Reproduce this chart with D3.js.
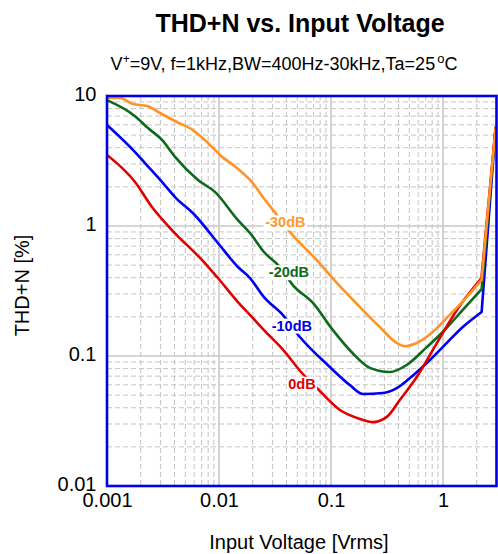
<!DOCTYPE html>
<html><head><meta charset="utf-8">
<script src="https://cdn.jsdelivr.net/npm/d3@7"></script>
<style>
body{margin:0;background:#fff;}
svg{display:block;}
text{font-family:Arial,"Liberation Sans",sans-serif;}
</style>
</head><body>
<svg id="chart" width="498" height="554"></svg>
<script>
// ---- data ----
const xTickValues = [0.001, 0.01, 0.1, 1];
const xTickLabels = ["0.001", "0.01", "0.1", "1"];
const yTickValues = [0.01, 0.1, 1, 10];
const yTickLabels = ["0.01", "0.1", "1", "10"];

const seriesNames = ["-10dB", "-20dB", "0dB", "-30dB"];

const volt0dB = [0.001, 0.00178, 0.00252, 0.0038, 0.00748, 0.00977, 0.01475, 0.01888, 0.0252, 0.0372, 0.055, 0.0748, 0.120, 0.181, 0.236, 0.315, 0.411, 0.582, 0.809, 0.993, 1.33, 2.2, 2.95];
const thd0dB  = [3.52, 2.18, 1.40, 0.93, 0.519, 0.398, 0.260, 0.207, 0.158, 0.112, 0.074, 0.0567, 0.0384, 0.0328, 0.031, 0.034, 0.0459, 0.0689, 0.111, 0.150, 0.226, 0.395, 5.8];

const volt10dB = [0.001, 0.00178, 0.00218, 0.00316, 0.00405, 0.0061, 0.00977, 0.01475, 0.0189, 0.0252, 0.0372, 0.0527, 0.0975, 0.147, 0.192, 0.290, 0.386, 0.494, 0.716, 0.993, 1.50, 2.21, 2.95];
const thd10dB  = [5.98, 3.7, 3.05, 2.14, 1.67, 1.21, 0.74, 0.484, 0.398, 0.284, 0.2065, 0.140, 0.0823, 0.0598, 0.051, 0.0519, 0.0567, 0.0665, 0.0883, 0.117, 0.167, 0.218, 5.8];

const volt20dB = [0.001, 0.00178, 0.00232, 0.0031, 0.00405, 0.00649, 0.00919, 0.01475, 0.0189, 0.0252, 0.0349, 0.0456, 0.0689, 0.104, 0.156, 0.222, 0.334, 0.474, 0.716, 0.993, 1.50, 2.21, 2.95];
const thd20dB  = [9.3, 7.0, 5.67, 4.59, 3.40, 2.26, 1.83, 1.11, 0.883, 0.631, 0.484, 0.351, 0.256, 0.158, 0.105, 0.081, 0.0753, 0.0853, 0.117, 0.153, 0.226, 0.327, 5.8];

const volt30dB = [0.001, 0.00131, 0.0017, 0.00228, 0.00297, 0.00421, 0.00585, 0.0078, 0.0102, 0.01445, 0.02, 0.0246, 0.0303, 0.0429, 0.0746, 0.1127, 0.181, 0.272, 0.386, 0.455, 0.582, 0.809, 1.148, 1.63, 2.21, 2.95];
const thd30dB  = [9.66, 9.66, 8.68, 8.38, 7.40, 6.31, 5.47, 4.43, 3.52, 2.79, 2.14, 1.67, 1.33, 0.90, 0.547, 0.365, 0.238, 0.167, 0.126, 0.119, 0.126, 0.153, 0.207, 0.284, 0.385, 5.8];

// label anchor points (data coordinates) in seriesNames order
const labelVolt = [0.0447, 0.0421, 0.055, 0.0391];
const labelThd  = [0.172, 0.443, 0.0614, 1.07];

// ---- layout ----
const svg = d3.select("#chart");
const L = 107, T = 96, R = 496.5, B = 486;
const x = d3.scaleLog().domain([0.001, 3]).range([L, R]);
const y = d3.scaleLog().domain([0.01, 10]).range([B, T]);

const colors = {"0dB":"#e00000","-10dB":"#0000f0","-20dB":"#0d6a1a","-30dB":"#ff9326"};
const labelColors = {"0dB":"#e00000","-10dB":"#0000e0","-20dB":"#0d6a1a","-30dB":"#ff9933"};
const seriesData = {
  "0dB": d3.zip(volt0dB, thd0dB),
  "-10dB": d3.zip(volt10dB, thd10dB),
  "-20dB": d3.zip(volt20dB, thd20dB),
  "-30dB": d3.zip(volt30dB, thd30dB)
};

// ---- titles ----
svg.append("text").attr("x", 300).attr("y", 31.5).attr("text-anchor","middle")
  .attr("font-size", 25).attr("font-weight","bold").text("THD+N vs. Input Voltage");

const sub = svg.append("text").attr("x", 284).attr("y", 70).attr("text-anchor","middle").attr("font-size", 18);
sub.append("tspan").text("V");
sub.append("tspan").attr("font-size", 12).attr("dy", -7).text("+");
sub.append("tspan").attr("dy", 7).text("=9V, f=1kHz,BW=400Hz-30kHz,Ta=25");
sub.append("tspan").attr("font-size", 13).attr("dy", -7).attr("dx", 2).text("o");
sub.append("tspan").attr("dy", 7).text("C");

// ---- grid ----
const grid = svg.append("g");
const xMinor = [], yMinor = [];
[0.001, 0.01, 0.1, 1].forEach(d => { for (let k = 2; k <= 9; k++) { const v = +(k*d).toPrecision(3); if (v < 2.99) xMinor.push(v); } });
[0.01, 0.1, 1].forEach(d => { for (let k = 2; k <= 9; k++) yMinor.push(+(k*d).toPrecision(3)); });

grid.selectAll(".xm").data(xMinor).join("line")
  .attr("x1", d => x(d)).attr("x2", d => x(d)).attr("y1", T).attr("y2", B)
  .attr("stroke", "#c4c4c4").attr("stroke-width", 1).attr("stroke-dasharray", "5,3");
grid.selectAll(".ym").data(yMinor).join("line")
  .attr("x1", L).attr("x2", R).attr("y1", d => y(d)).attr("y2", d => y(d))
  .attr("stroke", "#c4c4c4").attr("stroke-width", 1).attr("stroke-dasharray", "5,3");
grid.selectAll(".xM").data([0.01, 0.1, 1]).join("line")
  .attr("x1", d => x(d)).attr("x2", d => x(d)).attr("y1", T).attr("y2", B)
  .attr("stroke", "#c8c8c8").attr("stroke-width", 1.6);
grid.selectAll(".yM").data([0.1, 1]).join("line")
  .attr("x1", L).attr("x2", R).attr("y1", d => y(d)).attr("y2", d => y(d))
  .attr("stroke", "#c8c8c8").attr("stroke-width", 1.6);

// ---- curves ----
svg.append("clipPath").attr("id","clip").append("rect")
  .attr("x", L).attr("y", T).attr("width", R - L).attr("height", B - T);
const smooth = d3.line().x(d => x(d[0])).y(d => y(d[1])).curve(d3.curveMonotoneX);
const straight = d3.line().x(d => x(d[0])).y(d => y(d[1]));
const curves = svg.append("g").attr("clip-path","url(#clip)");
seriesNames.forEach(n => {
  const pts = seriesData[n];
  const body = pts.slice(0, -1);          // measured part, smooth
  const tail = pts.slice(-2);             // clipping rise, straight
  const d = smooth(body) + straight(tail).replace(/^M/, "L");
  curves.append("path").attr("d", d)
    .attr("fill","none").attr("stroke", colors[n]).attr("stroke-width", 2.6)
    .attr("stroke-linejoin","round");
});

// ---- curve labels ----
const labs = svg.append("g");
seriesNames.forEach((n, i) => {
  const g = labs.append("g");
  const t = g.append("text").attr("x", x(labelVolt[i])).attr("y", y(labelThd[i]))
    .attr("dy", "0.36em").attr("text-anchor","middle").attr("font-size", 14.5)
    .attr("font-weight","bold").attr("fill", labelColors[n]).text(n);
  const bb = t.node().getBBox();
  g.insert("rect", "text").attr("x", bb.x - 1.5).attr("y", bb.y + 1).attr("width", bb.width + 3).attr("height", bb.height - 1)
    .attr("fill", "#fff");
});

// ---- frame ----
svg.append("rect").attr("x", L).attr("y", T).attr("width", R - L).attr("height", B - T)
  .attr("fill","none").attr("stroke","#0000e6").attr("stroke-width", 2.6);

// ---- axes ----
const xAxis = svg.append("g").attr("transform", `translate(0,${B})`)
  .call(d3.axisBottom(x).tickValues(xTickValues).tickFormat((d, i) => xTickLabels[i]).tickSize(0).tickPadding(7));
xAxis.select(".domain").remove();
xAxis.selectAll("text").attr("font-size", 20).attr("fill", "#000").attr("font-family", "Arial, 'Liberation Sans', sans-serif");

const yAxis = svg.append("g").attr("transform", `translate(${L},0)`)
  .call(d3.axisLeft(y).tickValues(yTickValues).tickFormat((d, i) => yTickLabels[i]).tickSize(0).tickPadding(10.5));
yAxis.select(".domain").remove();
yAxis.selectAll("text").attr("font-size", 20).attr("fill", "#000").attr("dy", "0.2em").attr("font-family", "Arial, 'Liberation Sans', sans-serif");

// ---- axis titles ----
svg.append("text").attr("x", 299).attr("y", 549).attr("text-anchor","middle").attr("font-size", 20)
  .text("Input Voltage [Vrms]");
svg.append("text").attr("transform", "translate(28.5,285.5) rotate(-90)").attr("text-anchor","middle")
  .attr("font-size", 20).text("THD+N [%]");
</script>
</body></html>
